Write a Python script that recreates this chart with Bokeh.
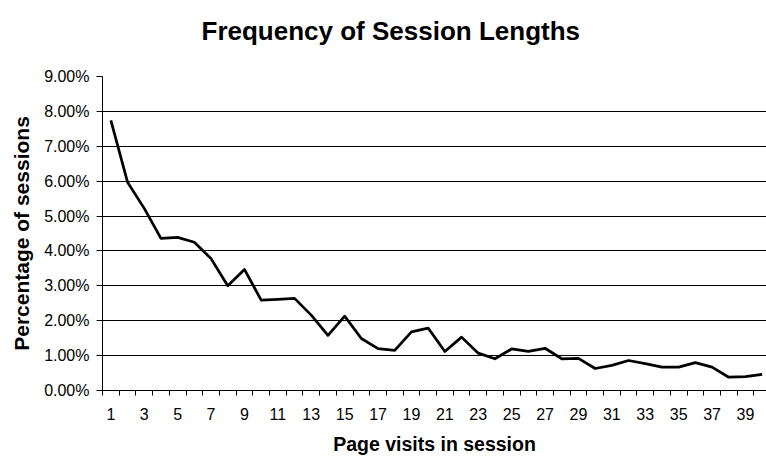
from bokeh.plotting import figure
from bokeh.models import FixedTicker, Range1d, Title
from bokeh.embed import file_html
from bokeh.resources import INLINE

# Share of sessions (in %) by number of page visits in the session
visits = list(range(1, 41))
share_pct = [7.74, 5.97, 5.22, 4.36, 4.39, 4.25, 3.78, 3.00, 3.47, 2.59,
             2.61, 2.64, 2.16, 1.58, 2.13, 1.49, 1.20, 1.15, 1.68, 1.79,
             1.12, 1.53, 1.07, 0.91, 1.19, 1.12, 1.21, 0.91, 0.92, 0.63,
             0.72, 0.86, 0.77, 0.67, 0.67, 0.80, 0.67, 0.38, 0.40, 0.46]

y_ticks = [0, 1, 2, 3, 4, 5, 6, 7, 8, 9]
y_tick_labels = [f"{t:.2f}%" for t in y_ticks]
x_label_ticks = [v for v in visits if v % 2 == 1]
x_boundaries = [v - 0.5 for v in visits]

FONT = "Liberation Sans"

p = figure(width=766, height=457, output_backend="svg", toolbar_location=None,
           x_range=Range1d(0.5, 40.26), y_range=Range1d(0, 9),
           min_border_left=102, min_border_right=0,
           min_border_top=76, min_border_bottom=67)

p.outline_line_color = None
p.background_fill_color = "white"
p.border_fill_color = "white"

# blank band between the heading and the plot area
p.add_layout(Title(text=" ", text_font_size="2px", standoff=27), "above")
# heading, stacked above the blank band
p.add_layout(Title(text="Frequency of Session Lengths", align="left", offset=99,
                   standoff=0, text_font=FONT, text_font_size="26px",
                   text_font_style="bold", text_color="black"), "above")

# category-style x axis: tick marks between categories, labels on odd ones
xa = p.xaxis[0]
xa.ticker = FixedTicker(ticks=x_label_ticks, minor_ticks=x_boundaries)
xa.major_tick_line_color = None
xa.major_tick_out = 5
xa.major_tick_in = 0
xa.minor_tick_line_color = "black"
xa.minor_tick_out = 5
xa.minor_tick_in = 0
xa.axis_line_color = "black"
xa.axis_line_width = 1
xa.major_label_standoff = 12
xa.major_label_text_font = FONT
xa.major_label_text_font_size = "16px"
xa.major_label_text_color = "black"
xa.axis_label = "Page visits in session"
xa.axis_label_text_font = FONT
xa.axis_label_text_font_size = "19.5px"
xa.axis_label_text_font_style = "bold"
xa.axis_label_text_color = "black"
xa.axis_label_standoff = 10

ya = p.yaxis[0]
ya.ticker = FixedTicker(ticks=y_ticks, minor_ticks=[])
ya.major_label_overrides = {t: lab for t, lab in zip(y_ticks, y_tick_labels)}
ya.major_tick_line_color = "black"
ya.major_tick_out = 6
ya.major_tick_in = 0
ya.axis_line_color = "black"
ya.major_label_standoff = 7
ya.major_label_text_font = FONT
ya.major_label_text_font_size = "16px"
ya.major_label_text_color = "black"
ya.axis_label = "Percentage of sessions"
ya.axis_label_text_font = FONT
ya.axis_label_text_font_size = "21px"
ya.axis_label_text_font_style = "bold"
ya.axis_label_text_color = "black"
ya.axis_label_standoff = 8

p.xgrid.visible = False
p.ygrid.ticker = FixedTicker(ticks=y_ticks, minor_ticks=[])
p.ygrid.grid_line_color = "black"
p.ygrid.grid_line_width = 1

p.line(visits, share_pct, line_color="black", line_width=2.75, line_join="round")

open("out.html", "w").write(file_html(p, INLINE))
